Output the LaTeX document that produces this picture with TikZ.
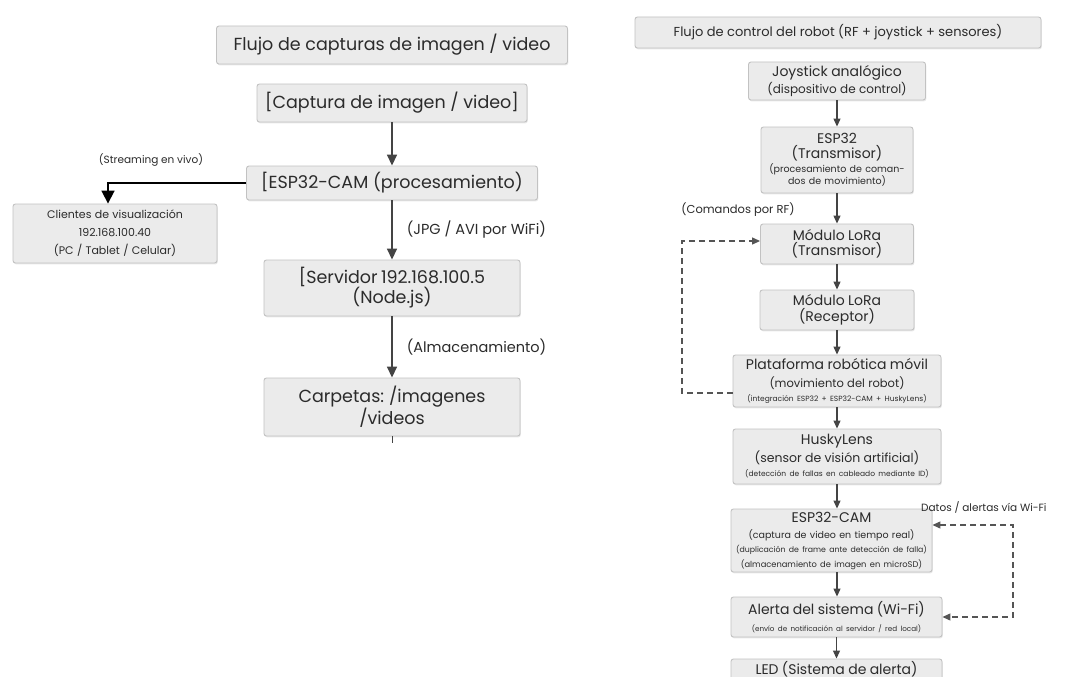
\documentclass[tikz,border=0pt]{standalone}
\usepackage{fontspec}
\setmainfont{Poppins}
\usetikzlibrary{arrows.meta,calc,shadows}
\definecolor{boxfill}{HTML}{EBEBEB}
\definecolor{boxline}{HTML}{C2C2C2}
\definecolor{txt}{HTML}{2B2B2B}
\definecolor{arr}{HTML}{444444}
\definecolor{dsh}{HTML}{555555}
\newcommand{\fz}[2]{\fontsize{#1}{#2}\selectfont}
\newcommand{\myline}[3]{{\fontsize{#1}{#2}\selectfont #3\par}}
\begin{document}
\begin{tikzpicture}[x=1pt,y=-1pt,
  box/.style={draw=boxline, fill=boxfill, rounded corners=2.5pt, line width=0.9pt, text=txt,
    inner sep=0pt, align=center,
    drop shadow={opacity=0.18, shadow xshift=0.8pt, shadow yshift=-1.4pt}},
  arrow/.style={draw=arr, line width=1.6pt, -{Triangle[width=10pt,length=11pt]}},
  rarrow/.style={draw=arr, line width=1.2pt, -{Triangle[width=7pt,length=8pt]}},
  sarrow/.style={draw=black, line width=1.8pt, -{Triangle[width=13pt,length=13pt]}},
  dashline/.style={draw=dsh, line width=1.2pt, dash pattern=on 6pt off 4pt},
  lbl/.style={text=txt, inner sep=0pt}]
\fill[white] (0,0) rectangle (1068,677);
\useasboundingbox (0,0) rectangle (1068,677);
\clip (0,0) rectangle (1068,677);

% ---------- left flow ----------
\node[box, minimum width=351, minimum height=38] (t1) at (392,45) {\fz{17.5}{21}Flujo de capturas de imagen / video};
\node[box, minimum width=270, minimum height=38] (cap) at (392,103) {\fz{17.5}{21}[Captura de imagen / video]};
\node[box, minimum width=291, minimum height=34] (esp) at (392,183) {\fz{17.5}{21}[ESP32-CAM (procesamiento)};
\node[box, minimum width=204, minimum height=59, text width=200] (cli) at (115,233.5)
  {\myline{11}{18}{Clientes de visualización}\myline{11}{18}{192.168.100.40}\myline{11}{18}{(PC / Tablet / Celular)}};
\node[box, minimum width=256, minimum height=56, text width=250] (srv) at (392,288)
  {\myline{17.5}{21}{[Servidor 192.168.100.5}\myline{17.5}{20}{(Node.js)}};
\node[box, minimum width=256, minimum height=58, text width=250] (carp) at (392,407)
  {\myline{17.5}{21}{Carpetas: /imagenes}\myline{17.5}{20}{/videos}};

\draw[arrow] (cap.south) -- (esp.north);
\draw[arrow] (esp.south) -- node[lbl, right=14pt, font=\fz{14.5}{18}] (jpg) {(JPG / AVI por WiFi)} (srv.north);
\draw[arrow] (srv.south) -- node[lbl, right=14pt, font=\fz{14.5}{18}] (alm) {(Almacenamiento)} (carp.north);
\coordinate (tick) at ($(carp.south)+(0,7)$);
\draw[draw=arr, line width=1pt] (carp.south) -- (tick);

\node[lbl, font=\fz{10.5}{13}] (strm) at (151,160) {(Streaming en vivo)};
\draw[sarrow] (esp.west) -| ([xshift=-7pt]cli.north);

% ---------- right flow ----------
\node[box, minimum width=406, minimum height=31] (t2) at (838,32.5) {\fz{13}{16}Flujo de control del robot (RF + joystick + sensores)};
\node[box, minimum width=177, minimum height=38, text width=173] (joy) at (837,81)
  {\myline{14}{16}{Joystick analógico}\myline{12}{17}{(dispositivo de control)}};
\node[box, minimum width=152, minimum height=66, text width=150] (e32) at (837,160)
  {\myline{14}{16}{ESP32}\myline{14}{15}{(Transmisor)}\myline{9.5}{14}{(procesamiento de coman-}\myline{9.5}{12}{dos de movimiento)}};
\node[box, minimum width=153, minimum height=40, text width=149] (lt) at (837,244)
  {\myline{14}{16}{Módulo LoRa}\myline{14}{15}{(Transmisor)}};
\node[box, minimum width=154, minimum height=40, text width=150] (lr) at (837,310)
  {\myline{14}{16}{Módulo LoRa}\myline{14}{16}{(Receptor)}};
\node[box, minimum width=208, minimum height=52, text width=206] (plat) at (837,381)
  {\myline{14}{16}{Plataforma robótica móvil}\myline{11.5}{18}{(movimiento del robot)}\myline{7.5}{14}{(integración ESP32 + ESP32-CAM + HuskyLens)}};
\node[box, minimum width=208, minimum height=55, text width=206] (husky) at (837,456.5)
  {\myline{14}{16}{HuskyLens}\myline{12.5}{18}{(sensor de visión artificial)}\myline{7.5}{14}{(detección de fallas en cableado mediante ID)}};
\node[box, minimum width=201, minimum height=63, text width=199] (cam) at (831.5,540.5)
  {\myline{14}{16}{ESP32-CAM}\myline{9.5}{16}{(captura de video en tiempo real)}\myline{7.8}{14}{(duplicación de frame ante detección de falla)}\myline{8.3}{15}{(almacenamiento de imagen en microSD)}};
\node[box, minimum width=211, minimum height=40, text width=209] (alert) at (836.5,617)
  {\myline{14}{16}{Alerta del sistema (Wi-Fi)}\myline{7.2}{17}{(envío de notificación al servidor / red local)}};
\node[box, minimum width=211, minimum height=38, text width=207, text depth=21pt] (led) at (836.5,678)
  {\myline{14}{16}{LED (Sistema de alerta)}};

\draw[rarrow] (joy.south) -- (joy.south |- e32.north);
\draw[rarrow] (e32.south) -- (e32.south |- lt.north);
\draw[rarrow] (lt.south) -- (lt.south |- lr.north);
\draw[rarrow] (lr.south) -- (lr.south |- plat.north);
\draw[rarrow] (plat.south) -- (plat.south |- husky.north);
\draw[rarrow] (husky.south) -- (husky.south |- cam.north);
\draw[rarrow] (cam.south -| husky.south) -- (husky.south |- alert.north);
\draw[rarrow] (alert.south) -- (alert.south |- led.north);

\node[lbl, font=\fz{11.5}{14}] (cmd) at (738,210) {(Comandos por RF)};

\coordinate (d1) at (682,393);
\coordinate (d2) at (682,241);
\draw[dashline, -{Triangle[width=7pt,length=8pt]}] (plat.west |- d1) -- (d1) -- (d2) -- (lt.west |- d2);

\coordinate (r1) at (1013,525);
\coordinate (r2) at (1013,617);
\draw[dashline, {Triangle[width=7pt,length=8pt]}-{Triangle[width=7pt,length=8pt]}] (cam.east |- r1) -- (r1) -- (r2) -- (alert.east |- r2);
\node[lbl, anchor=west, font=\fz{10.5}{13}] (datos) at (921,507) {Datos / alertas vía Wi-Fi};
\end{tikzpicture}
\end{document}
